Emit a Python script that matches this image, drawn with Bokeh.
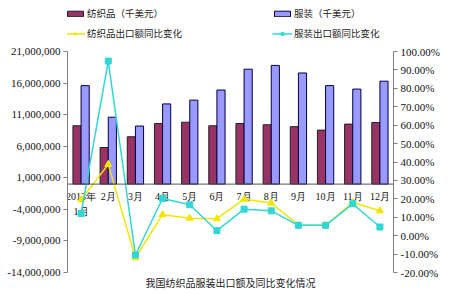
from bokeh.plotting import figure
from bokeh.models import (Range1d, LinearAxis, FixedTicker, NumeralTickFormatter,
                          Legend, LegendItem, Span, Title, ColumnDataSource)
from bokeh.transform import dodge
from bokeh.core.properties import value
from bokeh.embed import file_html
from bokeh.resources import INLINE

months = ["1月", "2月", "3月", "4月", "5月", "6月", "7月", "8月", "9月", "10月", "11月", "12月"]
month_labels = ["2013年\n1月", "2月", "3月", "4月", "5月", "6月", "7月", "8月", "9月", "10月", "11月", "12月"]
textile = [9240000, 5800000, 7500000, 9600000, 9800000, 9240000, 9600000, 9400000, 9100000, 8550000, 9500000, 9760000]
apparel = [15600000, 10600000, 9200000, 12700000, 13300000, 14900000, 18200000, 18800000, 17600000, 15600000, 15050000, 16300000]
textile_yoy = [0.195, 0.387, -0.12, 0.114, 0.095, 0.092, 0.198, 0.177, 0.058, 0.056, 0.18, 0.135]
apparel_yoy = [0.12, 0.948, -0.105, 0.202, 0.168, 0.027, 0.144, 0.135, 0.056, 0.056, 0.173, 0.047]
left_ticks = [21000000, 16000000, 11000000, 6000000, 1000000, -4000000, -9000000, -14000000]
right_ticks = [1.0, 0.9, 0.8, 0.7, 0.6, 0.5, 0.4, 0.3, 0.2, 0.1, 0.0, -0.1, -0.2]
left_bounds = (-14000000, 21000000)
right_bounds = (-0.2, 1.0)
# the frame runs up to the top of the page so that the legend can sit above 21,000,000
left_view = (-14000000, 29080000)
right_view = (-0.2, 1.277)

src = ColumnDataSource(dict(m=months, lab=month_labels, textile=textile, apparel=apparel,
                            tyoy=textile_yoy, ayoy=apparel_yoy, zero=[0] * len(months)))

SERIF = "Liberation Serif"
CJK = "Noto Sans CJK SC"

p = figure(width=450, height=294, x_range=months, y_range=Range1d(*left_view),
           output_backend="svg", toolbar_location=None, x_axis_location=None,
           min_border_left=67, min_border_right=57, min_border_top=0, min_border_bottom=22)
p.extra_y_ranges = {"pct": Range1d(*right_view)}
p.outline_line_color = None
p.xgrid.visible = False
p.ygrid.visible = False
p.background_fill_color = "white"

def style_axis(a):
    a.minor_tick_line_color = None
    a.major_tick_out = 4
    a.major_tick_in = 0
    a.major_label_standoff = 3
    a.axis_line_color = "#808080"
    a.major_tick_line_color = "#808080"
    a.major_label_text_font = SERIF
    a.major_label_text_font_size = "11px"
    a.major_label_text_color = "#111111"

ax = p.yaxis[0]
ax.ticker = FixedTicker(ticks=left_ticks)
ax.formatter = NumeralTickFormatter(format="0,0")
ax.bounds = left_bounds
style_axis(ax)

rax = LinearAxis(y_range_name="pct", ticker=FixedTicker(ticks=right_ticks),
                 formatter=NumeralTickFormatter(format="0.00%"), bounds=right_bounds)
style_axis(rax)
p.add_layout(rax, "right")

r_tex = p.vbar(x=dodge("m", -0.15, range=p.x_range), top="textile", width=0.3, source=src,
               fill_color="#993366", line_color="#222222", line_width=1)
r_app = p.vbar(x=dodge("m", 0.15, range=p.x_range), top="apparel", width=0.3, source=src,
               fill_color="#9999FF", line_color="#000040", line_width=1)

p.add_layout(Span(location=0, dimension="width", line_color="#555555", line_width=1))

p.text(x="m", y="zero", text="lab", source=src, y_offset=7, text_align="center",
       text_baseline="top", text_font=value(SERIF), text_font_size="10px",
       text_line_height=1.4, text_color="#111111")

yellow = "#F2E600"
cyan = "#33D6D6"
l_t = p.line(x="m", y="tyoy", source=src, y_range_name="pct", line_color=yellow, line_width=1.5)
s_t = p.scatter(x="m", y="tyoy", source=src, y_range_name="pct", marker="triangle", size=7,
                fill_color=yellow, line_color=yellow)
l_a = p.line(x="m", y="ayoy", source=src, y_range_name="pct", line_color=cyan, line_width=1.5)
s_a = p.scatter(x="m", y="ayoy", source=src, y_range_name="pct", marker="square", size=6,
                fill_color=cyan, line_color=cyan)

leg = Legend(items=[LegendItem(label="纺织品（千美元）", renderers=[r_tex]),
                    LegendItem(label="纺织品出口额同比变化", renderers=[l_t, s_t]),
                    LegendItem(label="服装（千美元）", renderers=[r_app]),
                    LegendItem(label="服装出口额同比变化", renderers=[l_a, s_a])],
             orientation="vertical", ncols=2, location=(-2, 229),
             padding=0, margin=0, spacing=0, label_standoff=2, glyph_width=20,
             glyph_height=7, label_height=20, label_width=185,
             border_line_color=None, background_fill_alpha=0,
             label_text_font=CJK, label_text_font_size="9.5px", label_text_color="#222222")
p.add_layout(leg)

t = Title(text="我国纺织品服装出口额及同比变化情况", align="center", offset=5,
          text_font=CJK, text_font_size="10px", text_font_style="normal", text_color="#222222",
          standoff=0)
p.add_layout(t, "below")

open("out.html", "w").write(file_html(p, INLINE))
